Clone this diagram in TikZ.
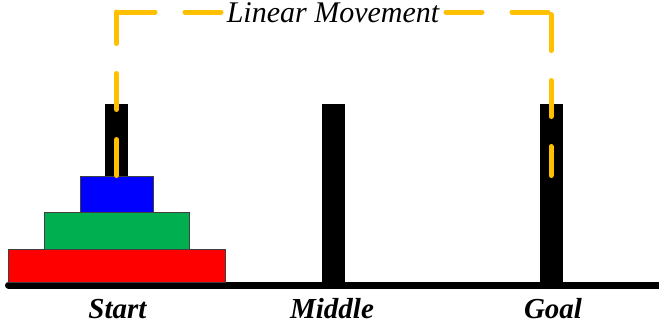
\documentclass[tikz,border=0pt]{standalone}
\usepackage{fontspec}
\setmainfont{Liberation Serif}
\definecolor{moveyellow}{RGB}{255,192,0}
\definecolor{diskblue}{RGB}{0,0,255}
\definecolor{diskgreen}{RGB}{0,176,80}
\definecolor{diskred}{RGB}{255,0,0}
\tikzset{
  peg/.style={rectangle, fill=black, inner sep=0pt, minimum width=23pt, minimum height=178pt},
  disk/.style={rectangle, draw=black!75, line width=0.8pt, inner sep=0pt},
  movepath/.style={draw=moveyellow, line width=5pt, line cap=round, dash pattern=on 36pt off 30pt},
  towerlabel/.style={font=\fontsize{29}{29}\selectfont\bfseries\itshape, inner sep=0pt, anchor=base},
  movelabel/.style={font=\fontsize{30}{30}\selectfont\itshape, inner sep=0pt, anchor=base}
}
\begin{document}
\begin{tikzpicture}[x=1pt,y=-1pt]
\useasboundingbox (0,0) rectangle (659,330);
% base
\coordinate (baseL) at (8.5,285.2);
\coordinate (baseR) at (665,285.2);
\draw[line width=7pt, line cap=round] (baseL) -- (baseR);
% pegs
\node[peg] (startpeg) at (116.5,193) {};
\node[peg] (middlepeg) at (333.5,193) {};
\node[peg] (goalpeg) at (551,193) {};
% disks
\node[disk, fill=diskred, minimum width=217pt, minimum height=33pt] (diskR) at (116.5,265.5) {};
\node[disk, fill=diskgreen, minimum width=145pt, minimum height=37pt] (diskG) at (116.5,230.5) {};
\node[disk, fill=diskblue, minimum width=73pt, minimum height=36pt] (diskB) at (116.5,194) {};
% labels
\node[towerlabel] (startlbl) at (117.5,318) {Start};
\node[towerlabel] (middlelbl) at (332,318) {Middle};
\node[towerlabel] (goallbl) at (553,318) {Goal};
\node[movelabel] (movelbl) at (333,22) {Linear Movement};
% movement path
\coordinate (lBot) at (116.5,175.5);
\coordinate (lTop) at (116.5,12);
\coordinate (lCorner) at (119,12);
\coordinate (lEnd) at (221,12);
\coordinate (rCorner) at (548,12);
\coordinate (rEnd) at (446,12);
\coordinate (rTop) at (551,14.5);
\coordinate (rBot) at (551,175.5);
\draw[movepath] (lBot) -- (lTop);
\draw[movepath] (lCorner) -- (lEnd);
\draw[movepath] (rCorner) -- (rEnd);
\draw[movepath] (rTop) -- (rBot);
\end{tikzpicture}
\end{document}
